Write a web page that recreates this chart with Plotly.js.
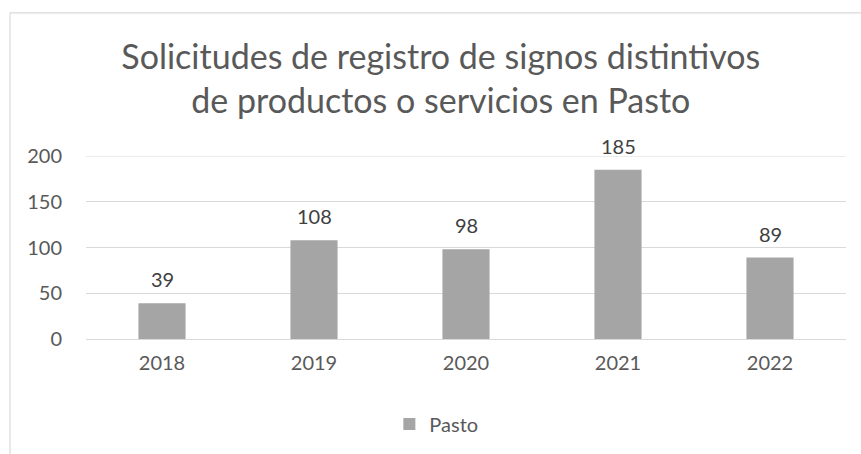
<!DOCTYPE html>
<html>
<head>
<meta charset="utf-8">
<script src="https://cdn.plot.ly/plotly-3.0.1.min.js"></script>
<style>html,body{margin:0;padding:0;background:#fff;}#chart{width:861px;height:454px;}</style>
</head>
<body>
<div id="chart"></div>
<script>
const years = ['2018', '2019', '2020', '2021', '2022'];
const pasto = [39, 108, 98, 185, 89];
const seriesName = 'Pasto';
const yTicks = [0, 50, 100, 150, 200];
const titleText = 'Solicitudes de registro de signos distintivos<br>de productos o servicios en Pasto';

const FONT = 'Lato, "Open Sans", sans-serif';
const yMax = yTicks[yTicks.length - 1];

const trace = {
  type: 'bar',
  x: years,
  y: pasto,
  name: seriesName,
  marker: {color: '#a5a5a5'},
  showlegend: true,
  hoverinfo: 'none'
};

const annotations = years.map((yr, i) => ({
  x: i, y: pasto[i], xref: 'x', yref: 'y',
  text: String(pasto[i]), showarrow: false,
  yanchor: 'middle', yshift: 24,
  font: {family: FONT, size: 20, color: '#404040'}
}));

const layout = {
  width: 861, height: 454,
  margin: {l: 86, r: 15, t: 156, b: 114},
  paper_bgcolor: '#ffffff', plot_bgcolor: '#ffffff',
  font: {family: FONT, color: '#595959'},
  bargap: 0.69,
  title: {
    text: titleText,
    font: {family: FONT, size: 34, color: '#595959'},
    x: 0.512, xref: 'container', xanchor: 'center',
    y: 1 - 69/454, yref: 'container', yanchor: 'middle'
  },
  xaxis: {
    type: 'category',
    categoryarray: years,
    range: [-0.5, years.length - 0.5],
    autorange: false,
    showgrid: false,
    showline: false,
    zeroline: false,
    ticks: '',
    ticklabelstandoff: 10,
    tickfont: {family: FONT, size: 20, color: '#595959'},
    fixedrange: true
  },
  yaxis: {
    range: [0, yMax],
    autorange: false,
    tickvals: yTicks,
    showgrid: true,
    gridcolor: '#d9d9d9', gridwidth: 1,
    zeroline: true, zerolinecolor: '#d9d9d9', zerolinewidth: 1,
    showline: false,
    ticks: '',
    ticklabelstandoff: 23,
    tickfont: {family: FONT, size: 20, color: '#595959'},
    fixedrange: true
  },
  showlegend: true,
  legend: {
    orientation: 'h',
    x: 0.461, xanchor: 'center',
    y: -0.457, yanchor: 'middle',
    font: {family: FONT, size: 20, color: '#595959'},
    bgcolor: 'rgba(0,0,0,0)'
  },
  annotations: annotations,
  shapes: [
    {type: 'line', xref: 'paper', yref: 'y', x0: 0, x1: 1, y0: yMax, y1: yMax, layer: 'below', line: {color: '#d9d9d9', width: 1}},
    {type: 'line', xref: 'paper', yref: 'paper', x0: (10-86)/760, x1: (861-86)/760 + 0.01, y0: (340-12)/184, y1: (340-12)/184, line: {color: '#d9d9d9', width: 1.2}},
    {type: 'line', xref: 'paper', yref: 'paper', x0: (10-86)/760, x1: (10-86)/760, y0: (340-12)/184, y1: (340-460)/184, line: {color: '#d9d9d9', width: 1.2}}
  ]
};

Plotly.newPlot('chart', [trace], layout, {displayModeBar: false, staticPlot: true});
</script>
</body>
</html>
